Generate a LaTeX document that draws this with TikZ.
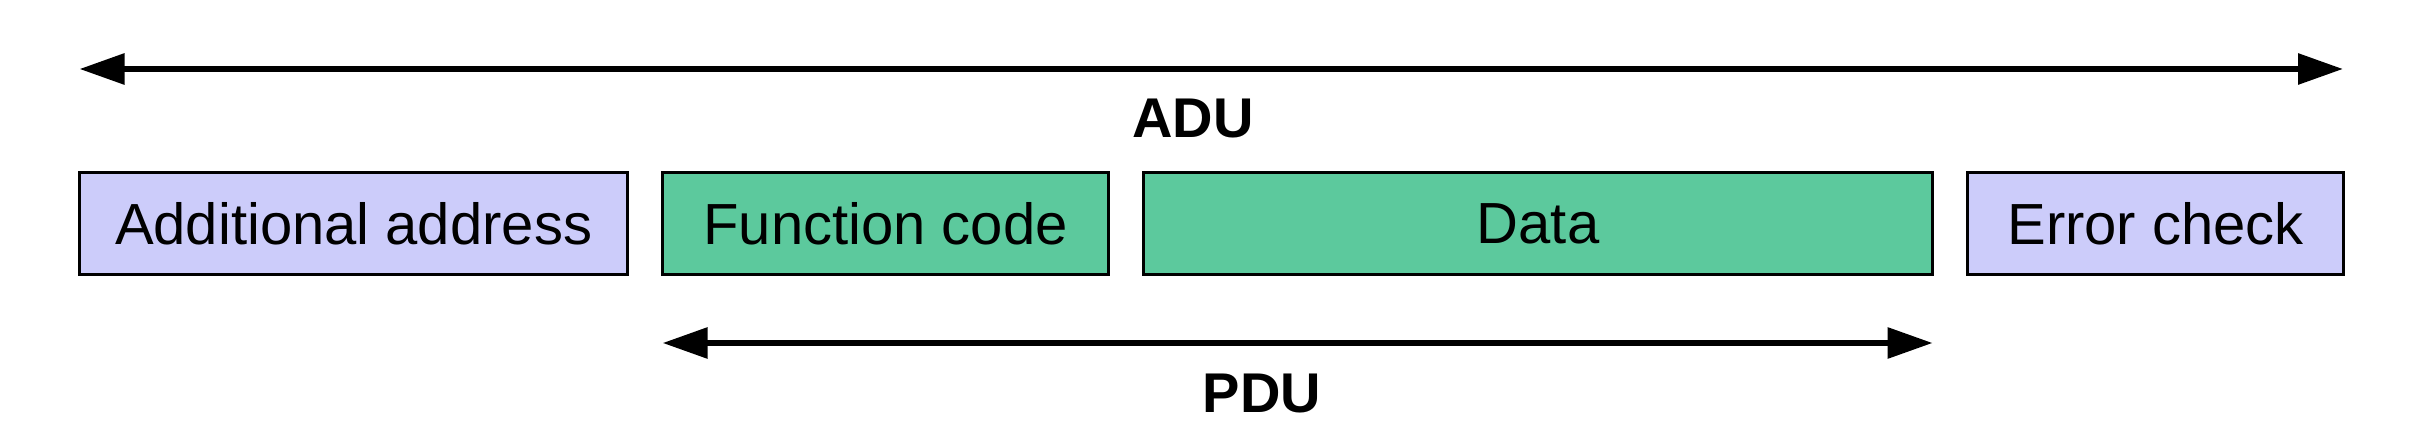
\documentclass[tikz,border=0pt]{standalone}
\usepackage{fontspec}
\setmainfont{Liberation Sans}
\usetikzlibrary{positioning,arrows.meta}
\definecolor{addrlilac}{HTML}{CCCCFA}
\definecolor{pdugreen}{HTML}{5CC99D}

\begin{document}
\begin{tikzpicture}[
          x=0.5pt,y=-0.5pt,
          node distance=17.5pt,
          field/.style={rectangle,draw,line width=1.5pt,inner sep=0pt,outer sep=0pt,
            minimum height=51pt,font=\fontsize{29}{34}\selectfont},
          span/.style={line width=3pt,{Triangle[length=22.5pt,width=15pt]}-{Triangle[length=22.5pt,width=15pt]}},
          tag/.style={font=\bfseries\fontsize{28}{33}\selectfont,inner sep=0pt}
        ]
        \useasboundingbox (0,0) rectangle (2414,448);
        \node[field,fill=addrlilac,minimum width=274pt] (addr) at (353.6,223.5) {Additional address};
        \node[field,fill=pdugreen,minimum width=223pt,right=of addr] (fcode) {Function code};
        \node[field,fill=pdugreen,minimum width=394.5pt,right=of fcode] (data) {Data};
        \node[field,fill=addrlilac,minimum width=188pt,right=of data] (check) {Error check};
        % ADU span
        \coordinate (adu w) at (79.5,69);
        \coordinate (adu e) at (2343,69);
        \draw[span] (adu w) -- (adu e);
        \node[tag] (adu) at (1193,118.5) {ADU};
        % PDU span
        \coordinate (pdu w) at (fcode.west |- 0,343);
        \coordinate (pdu e) at (data.east |- 0,343);
        \draw[span] (pdu w) -- (pdu e);
        \node[tag] (pdu) at (1262,393.5) {PDU};
      \end{tikzpicture}
\end{document}
